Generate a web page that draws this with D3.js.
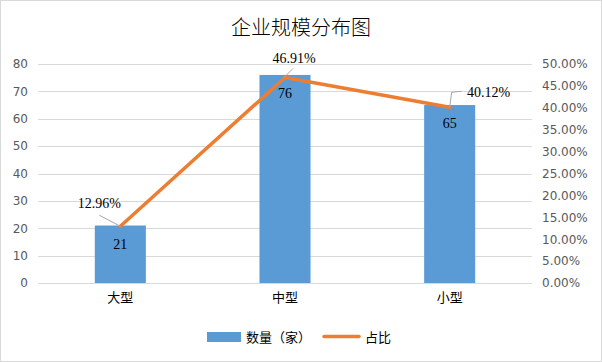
<!DOCTYPE html>
<html>
<head>
<meta charset="utf-8">
<script src="https://cdn.jsdelivr.net/npm/d3@7"></script>
<style>
    body { margin: 0; background: #fff; }
    svg { display: block; }
</style>
</head>
<body>
<div id="chart"></div>
<script>
const categories = ["大型", "中型", "小型"];
const counts = [21, 76, 65];
const shares = [0.1296, 0.4691, 0.4012];
const leftTicks = [0, 10, 20, 30, 40, 50, 60, 70, 80];
const rightTicks = [0, 0.05, 0.10, 0.15, 0.20, 0.25, 0.30, 0.35, 0.40, 0.45, 0.50];

const width = 602, height = 362;
const plot = { left: 38, right: 532, top: 64, bottom: 283 };

const svg = d3.select("#chart").append("svg")
    .attr("width", width)
    .attr("height", height);

svg.append("rect")
    .attr("x", 0.5).attr("y", 0.5)
    .attr("width", width - 1).attr("height", height - 1)
    .attr("fill", "#fff")
    .attr("stroke", "#d9d9d9");

svg.append("text")
    .attr("x", width / 2)
    .attr("y", 35)
    .attr("text-anchor", "middle")
    .attr("font-family", "Noto Sans CJK SC")
    .attr("font-weight", 300)
    .attr("font-size", 20)
    .attr("fill", "#000")
    .text("企业规模分布图");

const x = d3.scaleBand().domain(categories).range([plot.left, plot.right]).paddingInner(0.69).paddingOuter(0.345);
const xc = d => x(d) + x.bandwidth() / 2;
const yL = d3.scaleLinear().domain([0, 80]).range([plot.bottom, plot.top]);
const yR = d3.scaleLinear().domain([0, 0.5]).range([plot.bottom, plot.top]);

// gridlines
svg.append("g")
    .selectAll("line")
    .data(leftTicks)
    .join("line")
    .attr("x1", plot.left).attr("x2", plot.right)
    .attr("y1", d => Math.round(yL(d)) + 0.5)
    .attr("y2", d => Math.round(yL(d)) + 0.5)
    .attr("stroke", "#d9d9d9");

const axisFont = "DejaVu Sans";

const leftAxis = svg.append("g")
    .attr("transform", `translate(${plot.left},0)`)
    .call(d3.axisLeft(yL).tickValues(leftTicks).tickSize(0).tickPadding(10));
leftAxis.select(".domain").remove();
leftAxis.selectAll("text").attr("font-family", axisFont).attr("font-size", 12).attr("fill", "#595959");

const rightAxis = svg.append("g")
    .attr("transform", `translate(${plot.right},0)`)
    .call(d3.axisRight(yR).tickValues(rightTicks).tickSize(0).tickPadding(10).tickFormat(d3.format(".2%")));
rightAxis.select(".domain").remove();
rightAxis.selectAll("text").attr("font-family", axisFont).attr("font-size", 12).attr("fill", "#595959");

const bottomAxis = svg.append("g")
    .attr("transform", `translate(0,${plot.bottom})`)
    .call(d3.axisBottom(x).tickSize(0).tickPadding(10));
bottomAxis.select(".domain").remove();
bottomAxis.selectAll("text").attr("font-family", "Noto Sans CJK SC").attr("font-size", 13).attr("fill", "#000");

// bars
svg.append("g")
    .selectAll("rect")
    .data(counts)
    .join("rect")
    .attr("x", (d, i) => x(categories[i]))
    .attr("width", x.bandwidth())
    .attr("y", d => yL(d))
    .attr("height", d => plot.bottom - yL(d))
    .attr("fill", "#5b9bd5");

svg.append("g")
    .selectAll("text")
    .data(counts)
    .join("text")
    .attr("x", (d, i) => xc(categories[i]))
    .attr("y", d => yL(d) + 23)
    .attr("text-anchor", "middle")
    .attr("font-family", "Liberation Serif")
    .attr("font-size", 14)
    .attr("fill", "#000")
    .text(d => d);

// line
const line = d3.line()
    .x((d, i) => xc(categories[i]))
    .y(d => yR(d));

svg.append("path")
    .datum(shares)
    .attr("d", line)
    .attr("fill", "none")
    .attr("stroke", "#ed7d31")
    .attr("stroke-width", 3.5)
    .attr("stroke-linejoin", "round")
    .attr("stroke-linecap", "round");

// leader lines + percentage labels (offsets relative to the point)
const labelPos = [
    { dx: -21, dy: -18, lead: [[-21, -11], [0, 0]] },
    { dx: 9, dy: -15, lead: [[-1, 0], [8, -9]] },
    { dx: 39, dy: -10, lead: [[0, 0], [2, -15], [12, -16]] }
];

shares.forEach((s, i) => {
    const px = xc(categories[i]), py = yR(s);
    const p = labelPos[i];
    svg.append("path")
        .attr("d", d3.line()(p.lead.map(q => [px + q[0], py + q[1]])))
        .attr("fill", "none")
        .attr("stroke", "#a6a6a6")
        .attr("stroke-width", 1);
    svg.append("text")
        .attr("x", px + p.dx)
        .attr("y", py + p.dy)
        .attr("text-anchor", "middle")
        .attr("font-family", "Liberation Serif")
        .attr("font-size", 14)
        .attr("fill", "#000")
        .text(d3.format(".2%")(s));
});

// legend
const legend = svg.append("g").attr("font-family", "Noto Sans CJK SC").attr("font-size", 13);
legend.append("rect")
    .attr("x", 207).attr("y", 332)
    .attr("width", 34).attr("height", 10)
    .attr("fill", "#5b9bd5");
legend.append("text")
    .attr("x", 246).attr("y", 342)
    .text("数量（家）");
legend.append("line")
    .attr("x1", 324).attr("x2", 359)
    .attr("y1", 336.5).attr("y2", 336.5)
    .attr("stroke", "#ed7d31")
    .attr("stroke-width", 3.5)
    .attr("stroke-linecap", "round");
legend.append("text")
    .attr("x", 365).attr("y", 342)
    .text("占比");
</script>
</body>
</html>
